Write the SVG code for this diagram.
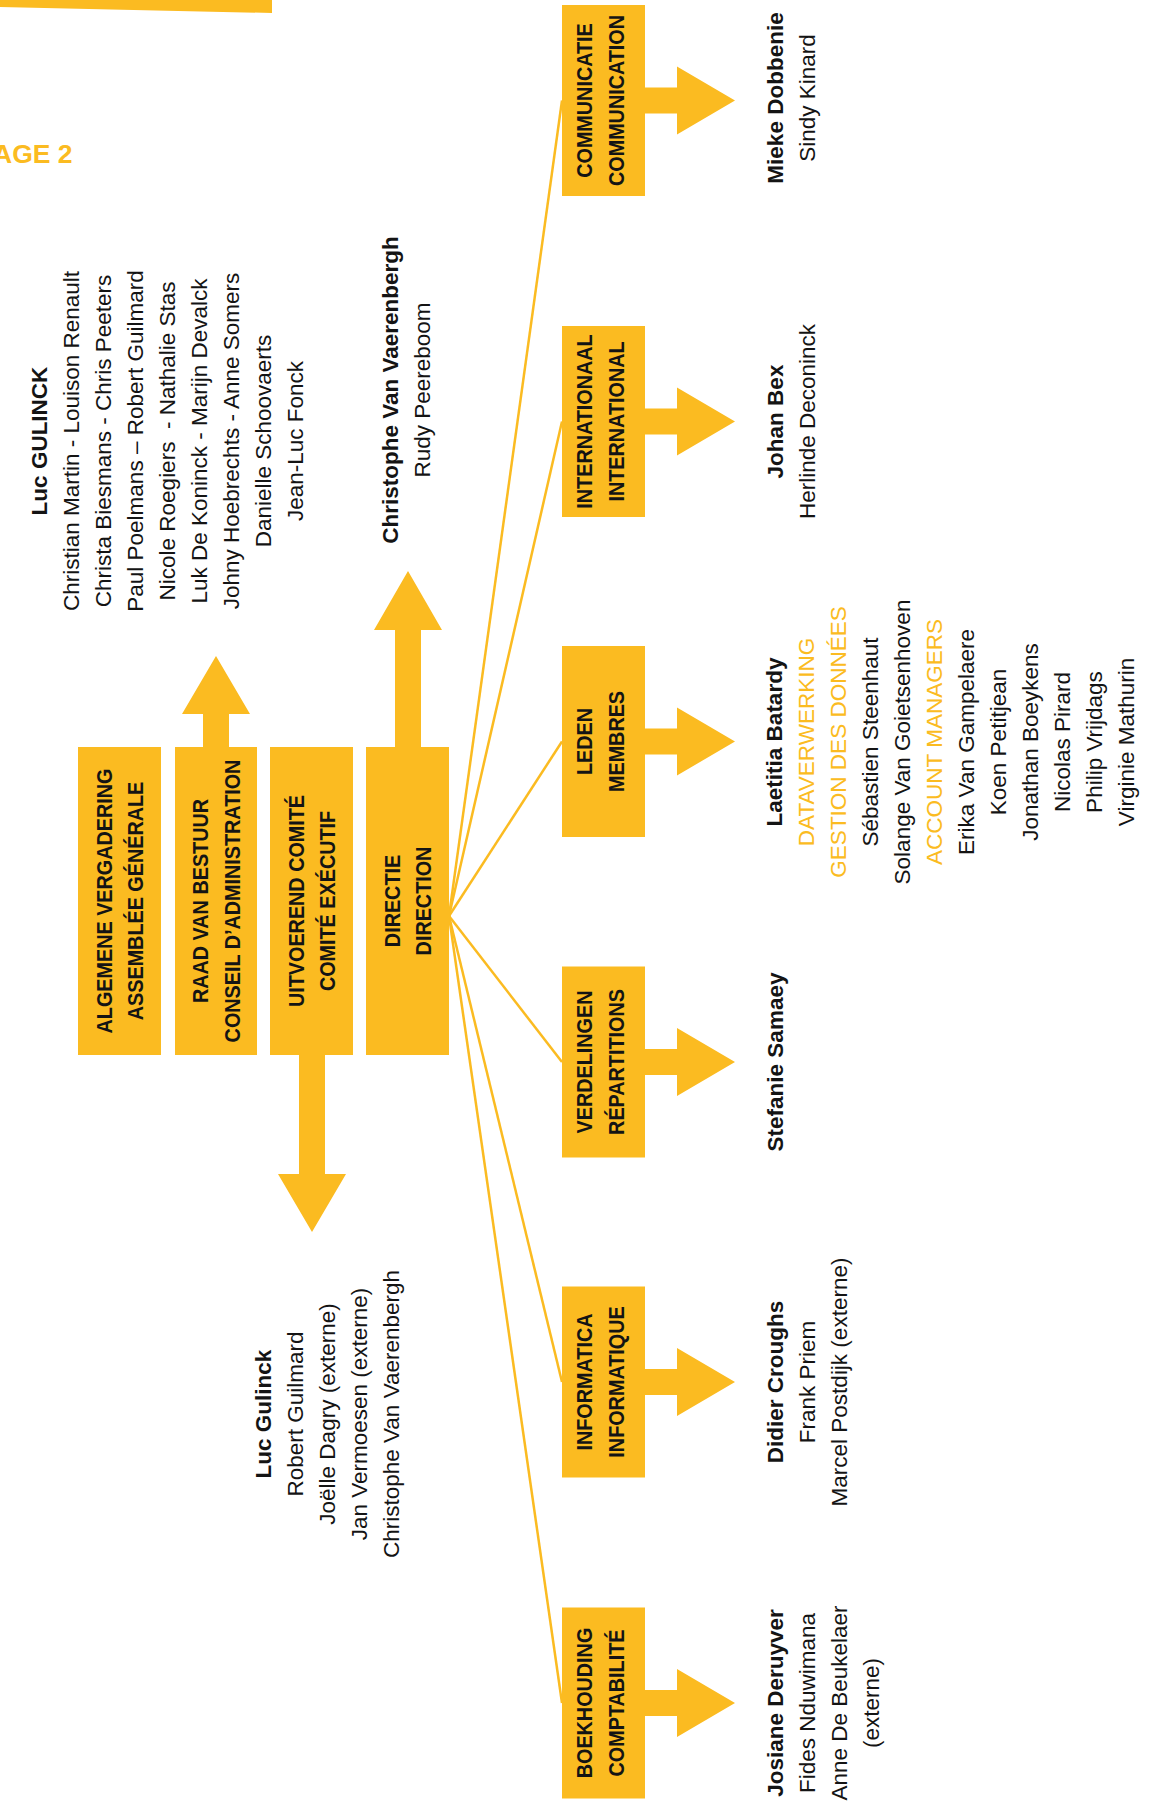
<svg xmlns="http://www.w3.org/2000/svg" width="1173" height="1801" viewBox="0 0 1173 1801">
<style>
.box{fill:#FBBB21}
.arr{fill:#FBBB21}
.fan{stroke:#FBBB21;stroke-width:2.5;fill:none}
.bt{font-family:"Liberation Sans",Arial,sans-serif;font-weight:bold;font-size:22px;fill:#141414;text-anchor:middle}
.pt{font-family:"Liberation Sans",Arial,sans-serif;font-size:22.5px;fill:#141414;text-anchor:middle}
.b{font-weight:bold}
.o{fill:#FBBB21}
</style>
<rect width="1173" height="1801" fill="#ffffff"/>
<g id="header">
<polygon class="box" points="0,0 272,0 272,13 0,7"/>
<text x="-7" y="163" font-family="Liberation Sans, Arial, sans-serif" font-weight="bold" font-size="26.5" fill="#FBBB21">AGE 2</text>
</g>
<g id="connectors">
<line class="fan" x1="449" y1="916" x2="562" y2="100.5"/>
<line class="fan" x1="449" y1="916" x2="562" y2="421.5"/>
<line class="fan" x1="449" y1="916" x2="562" y2="741.5"/>
<line class="fan" x1="449" y1="916" x2="562" y2="1062"/>
<line class="fan" x1="449" y1="916" x2="562" y2="1382"/>
<line class="fan" x1="449" y1="916" x2="562" y2="1703"/>
<polygon class="arr" points="203,748 203,714 182,714 216,656 250,714 229,714 229,748"/>
<polygon class="arr" points="299,1054 299,1174 278,1174 312,1232 346,1174 325,1174 325,1054"/>
<polygon class="arr" points="395,748 395,630 374,630 408,571 442,630 421,630 421,748"/>
<polygon class="arr" points="644,87.5 677,87.5 677,66.5 735,100.5 677,134.5 677,113.5 644,113.5"/>
<polygon class="arr" points="644,408.5 677,408.5 677,387.5 735,421.5 677,455.5 677,434.5 644,434.5"/>
<polygon class="arr" points="644,728.5 677,728.5 677,707.5 735,741.5 677,775.5 677,754.5 644,754.5"/>
<polygon class="arr" points="644,1049 677,1049 677,1028 735,1062 677,1096 677,1075 644,1075"/>
<polygon class="arr" points="644,1369 677,1369 677,1348 735,1382 677,1416 677,1395 644,1395"/>
<polygon class="arr" points="644,1690 677,1690 677,1669 735,1703 677,1737 677,1716 644,1716"/>
</g>
<g id="algemene-vergadering">
<rect class="box" x="78" y="747" width="83" height="308"/>
<text class="bt" transform="translate(111.5,901) rotate(-90) scale(0.9,1)"><tspan x="0" y="0">ALGEMENE VERGADERING</tspan><tspan x="0" y="32">ASSEMBLÉE GÉNÉRALE</tspan></text>
</g>
<g id="raad-van-bestuur">
<rect class="box" x="175" y="747" width="82" height="308"/>
<text class="bt" transform="translate(208,901) rotate(-90) scale(0.9,1)"><tspan x="0" y="0">RAAD VAN BESTUUR</tspan><tspan x="0" y="32">CONSEIL D’ADMINISTRATION</tspan></text>
</g>
<g id="uitvoerend-comite">
<rect class="box" x="270" y="747" width="83" height="308"/>
<text class="bt" transform="translate(303.5,901) rotate(-90) scale(0.9,1)"><tspan x="0" y="0">UITVOEREND COMITÉ</tspan><tspan x="0" y="32">COMITÉ EXÉCUTIF</tspan></text>
</g>
<g id="directie">
<rect class="box" x="366" y="747" width="83" height="308"/>
<text class="bt" transform="translate(399.5,901) rotate(-90) scale(0.9,1)"><tspan x="0" y="0">DIRECTIE</tspan><tspan x="0" y="32">DIRECTION</tspan></text>
</g>
<g id="communicatie">
<rect class="box" x="562" y="5" width="83" height="191"/>
<text class="bt" transform="translate(592,100.5) rotate(-90) scale(0.9,1)"><tspan x="0" y="0">COMMUNICATIE</tspan><tspan x="0" y="32">COMMUNICATION</tspan></text>
</g>
<g id="internationaal">
<rect class="box" x="562" y="326" width="83" height="191"/>
<text class="bt" transform="translate(592,421.5) rotate(-90) scale(0.9,1)"><tspan x="0" y="0">INTERNATIONAAL</tspan><tspan x="0" y="32">INTERNATIONAL</tspan></text>
</g>
<g id="leden">
<rect class="box" x="562" y="646" width="83" height="191"/>
<text class="bt" transform="translate(592,741.5) rotate(-90) scale(0.9,1)"><tspan x="0" y="0">LEDEN</tspan><tspan x="0" y="32">MEMBRES</tspan></text>
</g>
<g id="verdelingen">
<rect class="box" x="562" y="966.5" width="83" height="191"/>
<text class="bt" transform="translate(592,1062) rotate(-90) scale(0.9,1)"><tspan x="0" y="0">VERDELINGEN</tspan><tspan x="0" y="32">RÉPARTITIONS</tspan></text>
</g>
<g id="informatica">
<rect class="box" x="562" y="1286.5" width="83" height="191"/>
<text class="bt" transform="translate(592,1382) rotate(-90) scale(0.9,1)"><tspan x="0" y="0">INFORMATICA</tspan><tspan x="0" y="32">INFORMATIQUE</tspan></text>
</g>
<g id="boekhouding">
<rect class="box" x="562" y="1607.5" width="83" height="191"/>
<text class="bt" transform="translate(592,1703) rotate(-90) scale(0.9,1)"><tspan x="0" y="0">BOEKHOUDING</tspan><tspan x="0" y="32">COMPTABILITÉ</tspan></text>
</g>
<g id="people-algemene-vergadering">
<text class="pt" transform="translate(47,441) rotate(-90)"><tspan class="b" x="0" y="0">Luc GULINCK</tspan><tspan x="0" y="32">Christian Martin - Louison Renault</tspan><tspan x="0" y="64">Christa Biesmans - Chris Peeters</tspan><tspan x="0" y="96">Paul Poelmans – Robert Guilmard</tspan><tspan x="0" y="128" xml:space="preserve">Nicole Roegiers  - Nathalie Stas</tspan><tspan x="0" y="160">Luk De Koninck - Marijn Devalck</tspan><tspan x="0" y="192">Johny Hoebrechts - Anne Somers</tspan><tspan x="0" y="224">Danielle Schoovaerts</tspan><tspan x="0" y="256">Jean-Luc Fonck</tspan></text>
</g>
<g id="people-directie">
<text class="pt" transform="translate(398,390) rotate(-90)"><tspan class="b" x="0" y="0">Christophe Van Vaerenbergh</tspan><tspan x="0" y="32">Rudy Peereboom</tspan></text>
</g>
<g id="people-uitvoerend-comite">
<text class="pt" transform="translate(271,1414) rotate(-90)"><tspan class="b" x="0" y="0">Luc Gulinck</tspan><tspan x="0" y="32">Robert Guilmard</tspan><tspan x="0" y="64">Joëlle Dagry (externe)</tspan><tspan x="0" y="96">Jan Vermoesen (externe)</tspan><tspan x="0" y="128">Christophe Van Vaerenbergh</tspan></text>
</g>
<g id="people-communicatie">
<text class="pt" transform="translate(783,98) rotate(-90)"><tspan class="b" x="0" y="0">Mieke Dobbenie</tspan><tspan x="0" y="32">Sindy Kinard</tspan></text>
</g>
<g id="people-internationaal">
<text class="pt" transform="translate(783,421.5) rotate(-90)"><tspan class="b" x="0" y="0">Johan Bex</tspan><tspan x="0" y="32">Herlinde Deconinck</tspan></text>
</g>
<g id="people-leden">
<text class="pt" transform="translate(782,742) rotate(-90)"><tspan class="b" x="0" y="0">Laetitia Batardy</tspan><tspan class="o" x="0" y="32">DATAVERWERKING</tspan><tspan class="o" x="0" y="64">GESTION DES DONNÉES</tspan><tspan x="0" y="96">Sébastien Steenhaut</tspan><tspan x="0" y="128">Solange Van Goietsenhoven</tspan><tspan class="o" x="0" y="160">ACCOUNT MANAGERS</tspan><tspan x="0" y="192">Erika Van Gampelaere</tspan><tspan x="0" y="224">Koen Petitjean</tspan><tspan x="0" y="256">Jonathan Boeykens</tspan><tspan x="0" y="288">Nicolas Pirard</tspan><tspan x="0" y="320">Philip Vrijdags</tspan><tspan x="0" y="352">Virginie Mathurin</tspan></text>
</g>
<g id="people-verdelingen">
<text class="pt" transform="translate(783,1062) rotate(-90)"><tspan class="b" x="0" y="0">Stefanie Samaey</tspan></text>
</g>
<g id="people-informatica">
<text class="pt" transform="translate(783,1382) rotate(-90)"><tspan class="b" x="0" y="0">Didier Croughs</tspan><tspan x="0" y="32">Frank Priem</tspan><tspan x="0" y="64">Marcel Postdijk (externe)</tspan></text>
</g>
<g id="people-boekhouding">
<text class="pt" transform="translate(783,1703) rotate(-90)"><tspan class="b" x="0" y="0">Josiane Deruyver</tspan><tspan x="0" y="32">Fides Nduwimana</tspan><tspan x="0" y="64">Anne De Beukelaer</tspan><tspan x="0" y="96">(externe)</tspan></text>
</g>
</svg>
